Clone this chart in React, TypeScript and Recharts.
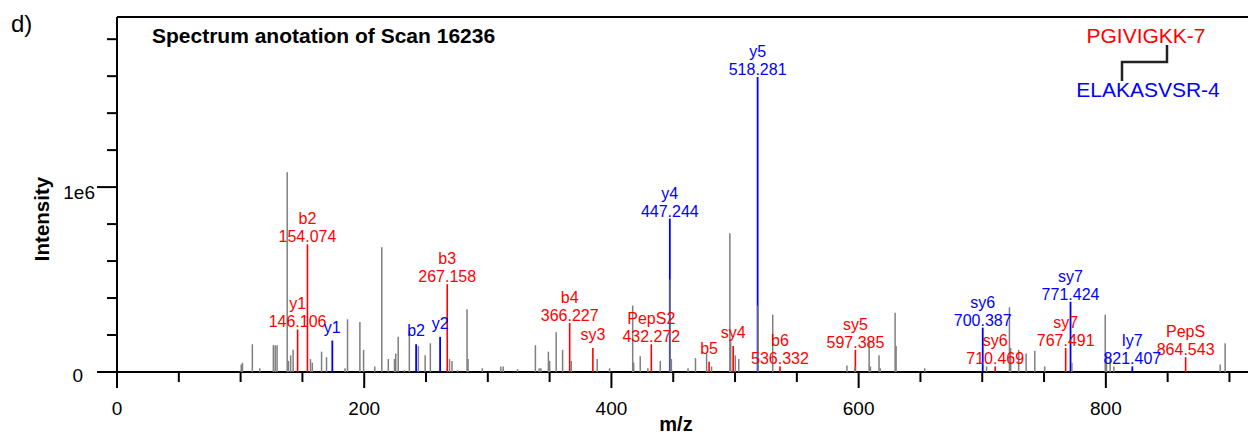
import { ComposedChart, Scatter, XAxis, YAxis, ReferenceLine } from "recharts";

const FONT = "'Liberation Sans', Arial, Helvetica, sans-serif";
const W = 1248;
const H = 434;
const PLOT_BOTTOM = 372;
const X_MAX = 915;
const Y_MAX = 1920000;

// axis ticks
const xTicks = [0, 50, 100, 150, 200, 250, 300, 350, 400, 450, 500, 550, 600, 650, 700, 750, 800, 850, 900];
const xTickLabels = [0, 200, 400, 600, 800];
const yTicks = [0, 200000, 400000, 600000, 800000, 1000000, 1200000, 1400000, 1600000, 1800000];
const yTickLabels: Record<number, string> = { 0: "0", 1000000: "1e6" };

// unassigned peaks (grey)
const greyMz = [
  100.5, 101.5, 109.5, 115.5, 126.5, 128, 129.5, 137.7, 138.7, 140.5, 142.5, 156.5, 158, 165.5, 169.5,
  184.5, 186.5, 196.5, 199.5, 208.5, 214.2, 219.5, 224.5, 225.5, 227.5, 232.5, 236.5, 243.8, 249.3, 253.5,
  269, 271, 275.5, 283.2, 284, 295.5, 310.5, 312.5, 324, 338.5, 341.5, 343, 349, 350, 355.3, 360.5, 367.5,
  388.5, 398.5, 417.2, 418, 423.3, 429.5, 439.5, 447.5, 448.5, 462, 468, 477, 481, 495.8, 496.5, 500.2, 503,
  518.6, 530.5, 590.5, 597, 608.5, 609.5, 616.5, 617.5, 629.5, 630.3, 653.5, 703.5, 722, 723, 729.5, 735.5,
  742.5, 750.5, 772.5, 799.5, 800.5, 803.5, 806.5, 892.5, 896.5,
];
const greyIntensity = [
  40000, 50000, 150000, 20000, 145000, 145000, 145000, 1080000, 60000, 90000, 120000, 70000, 50000, 110000, 80000,
  20000, 285000, 270000, 120000, 30000, 675000, 70000, 70000, 100000, 190000, 10000, 225000, 140000, 90000, 155000,
  70000, 60000, 10000, 340000, 70000, 20000, 30000, 30000, 15000, 145000, 20000, 20000, 110000, 60000, 215000, 120000, 60000,
  70000, 20000, 360000, 50000, 85000, 20000, 60000, 500000, 70000, 20000, 75000, 100000, 30000, 750000, 165000, 90000, 70000,
  360000, 310000, 35000, 30000, 170000, 30000, 90000, 20000, 320000, 140000, 20000, 30000, 350000, 130000, 120000, 100000,
  115000, 30000, 50000, 310000, 100000, 70000, 30000, 40000, 155000,
];

// PGIVIGKK-7 fragments (red)
const alphaNames = ["y1", "b2", "b3", "b4", "sy3", "PepS2", "b5", "sy4", "b6", "sy5", "sy6", "sy7", "PepS"];
const alphaMz = [146.106, 154.074, 267.158, 366.227, 385, 432.272, 479, 498.5, 536.332, 597.385, 710.469, 767.491, 864.543];
const alphaIntensity = [230000, 690000, 475000, 265000, 130000, 150000, 55000, 140000, 30000, 120000, 30000, 130000, 80000];
const alphaShowMz = [true, true, true, true, false, true, false, false, true, true, true, true, true];

// ELAKASVSR-4 fragments (blue)
const betaNames = ["y1", "b2", "y2", "y4", "y5", "sy6", "sy7", "ly7"];
const betaMz = [174.2, 242, 261.4, 447.244, 518.281, 700.387, 771.424, 821.407];
const betaIntensity = [170000, 150000, 190000, 830000, 1596000, 240000, 380000, 30000];
const betaShowMz = [false, false, false, true, true, true, true, true];

const RED = "#ff0000";
const BLUE = "#0000ff";
const GREY = "#7f7f7f";

const greyData = greyMz.map((mz, i) => ({ mz, intensity: greyIntensity[i] }));
const alphaData = alphaMz.map((mz, i) => ({
  mz,
  intensity: alphaIntensity[i],
  name: alphaNames[i],
  mzText: alphaShowMz[i] ? mz.toFixed(3) : "",
}));
const betaData = betaMz.map((mz, i) => ({
  mz,
  intensity: betaIntensity[i],
  name: betaNames[i],
  mzText: betaShowMz[i] ? mz.toFixed(3) : "",
}));

const stick = (color: string, width: number) => (props: any) => {
  const { cx, cy } = props;
  return <line x1={cx} x2={cx} y1={cy} y2={PLOT_BOTTOM} stroke={color} strokeWidth={width} />;
};

const peakLabel = (color: string) => (props: any) => {
  const { cx, cy, payload } = props;
  if (payload.mzText) {
    return (
      <g fill={color} fontSize={16} fontFamily={FONT} textAnchor="middle">
        <text x={cx} y={cy - 20}>{payload.name}</text>
        <text x={cx} y={cy - 2}>{payload.mzText}</text>
      </g>
    );
  }
  return (
    <text x={cx} y={cy - 8} fill={color} fontSize={16} fontFamily={FONT} textAnchor="middle">
      {payload.name}
    </text>
  );
};

function XTick({ x, y, payload }: any) {
  const v = payload.value;
  const major = xTickLabels.includes(v);
  return (
    <g>
      <line x1={x} x2={x} y1={y} y2={y + (major ? 16 : 10)} stroke="#000" strokeWidth={2} />
      {major && (
        <text x={x} y={y + 43} textAnchor="middle" fontSize={19} fontFamily={FONT} fill="#000">
          {v}
        </text>
      )}
    </g>
  );
}

function YTick({ x, y, payload }: any) {
  const v = payload.value;
  const label = yTickLabels[v];
  return (
    <g>
      <line x1={x - (label ? 20 : 10)} x2={x} y1={y} y2={y} stroke="#000" strokeWidth={2} />
      {label && (
        <text
          x={v === 0 ? x - 34 : x - 22}
          y={v === 0 ? y + 9.5 : y + 12}
          textAnchor="end"
          fontSize={19}
          fontFamily={FONT}
          fill="#000"
        >
          {label}
        </text>
      )}
    </g>
  );
}

export default function App() {
  return (
    <div style={{ position: "absolute", left: 0, top: 0, width: W, height: H, background: "#fff" }}>
      <ComposedChart width={W} height={H} margin={{ top: 17, right: 0, left: 0, bottom: 0 }}>
        <XAxis
          type="number"
          dataKey="mz"
          domain={[0, X_MAX]}
          ticks={xTicks}
          interval={0}
          height={62}
          tickSize={0}
          tickMargin={0}
          axisLine={{ stroke: "#000", strokeWidth: 2 }}
          tick={<XTick />}
          allowDataOverflow
        />
        <YAxis
          type="number"
          dataKey="intensity"
          domain={[0, Y_MAX]}
          ticks={yTicks}
          interval={0}
          width={117}
          tickSize={0}
          tickMargin={0}
          axisLine={{ stroke: "#000", strokeWidth: 2 }}
          tick={<YTick />}
          allowDataOverflow
        />
        <ReferenceLine y={Y_MAX} stroke="#000" strokeWidth={2} />
        <Scatter data={alphaData} shape={stick(RED, 1.6)} isAnimationActive={false} />
        <Scatter data={betaData} shape={stick(BLUE, 1.8)} isAnimationActive={false} />
        <Scatter data={greyData} shape={stick(GREY, 1.5)} isAnimationActive={false} />
        <Scatter data={alphaData} shape={peakLabel(RED)} isAnimationActive={false} />
        <Scatter data={betaData} shape={peakLabel(BLUE)} isAnimationActive={false} />
      </ComposedChart>
      <svg
        width={W}
        height={H}
        style={{ position: "absolute", left: 0, top: 0, pointerEvents: "none" }}
        fontFamily={FONT}
      >
        <text x={11} y={32} fontSize={24} fill="#000">d)</text>
        <text x={152} y={43} fontSize={21} fontWeight="bold" fill="#000">
          Spectrum anotation of Scan 16236
        </text>
        <text
          transform="translate(49, 219) rotate(-90)"
          textAnchor="middle"
          fontSize={20.5}
          fontWeight="bold"
          fill="#000"
        >
          Intensity
        </text>
        <text x={676} y={431} textAnchor="middle" fontSize={20} fontWeight="bold" fill="#000">
          m/z
        </text>
        <text x={1146} y={43} textAnchor="middle" fontSize={21} fill={RED}>PGIVIGKK-7</text>
        <text x={1148} y={97} textAnchor="middle" fontSize={21} fill={BLUE}>ELAKASVSR-4</text>
        <polyline points="1167,45 1167,62 1122,62 1122,81" fill="none" stroke="#222" strokeWidth={2.5} />
      </svg>
    </div>
  );
}
